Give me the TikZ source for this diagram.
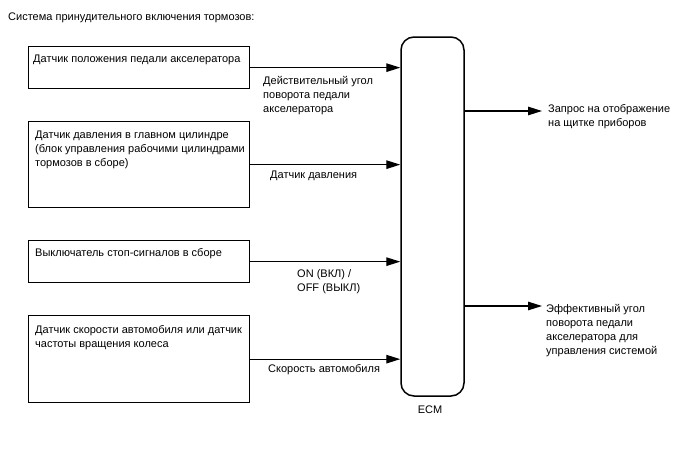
\documentclass[tikz,border=0pt]{standalone}
\usepackage{fontspec}
\setmainfont{Liberation Sans}
\usetikzlibrary{arrows.meta, positioning, calc}

\begin{document}
\begin{tikzpicture}[x=1pt, y=-1pt,
    every node/.style={font=\fontsize{11}{14}\selectfont},
    txt/.style={anchor=north west, inner sep=0pt, align=left},
    sensor/.style={draw, line width=1.3pt, anchor=north west, minimum width=221pt, inner sep=0pt},
    sig/.style={-{Triangle[length=14pt, width=8.5pt]}, line width=1.3pt}]
    \useasboundingbox (0,0) rectangle (688,463);
    % Title
    \node[txt] (title) at (8,12.5) {Система принудительного включения тормозов:};
    % Sensors
    \node[sensor, minimum height=42pt] (pedal) at (28,46) {};
    \node[txt] (pedaltxt) at (33,54.5) {Датчик положения педали акселератора};
    \node[sensor, minimum height=86pt] (press) at (28,121) {};
    \node[txt] (presstxt) at (35,130.5) {Датчик давления в главном цилиндре\\(блок управления рабочими цилиндрами\\тормозов в сборе)};
    \node[sensor, minimum height=42pt] (stop) at (28,240) {};
    \node[txt] (stoptxt) at (35,248.5) {Выключатель стоп-сигналов в сборе};
    \node[sensor, minimum height=87pt] (speed) at (28,315) {};
    \node[txt] (speedtxt) at (35,325.5) {Датчик скорости автомобиля или датчик\\частоты вращения колеса};
    % ECM
    \node[draw, line width=1.5pt, rounded corners=13pt, minimum width=63pt, minimum height=359pt, inner sep=0pt] (ecm) at (432.5,216.5) {};
    \node[inner sep=0pt] (ecmtxt) at (430,410) {ECM};
    % Inputs
    \draw[sig] (pedal.east) -- (pedal.east -| ecm.west);
    \draw[sig] (press.east) -- (press.east -| ecm.west);
    \draw[sig] (stop.east) -- (stop.east -| ecm.west);
    \draw[sig] (speed.east) -- (speed.east -| ecm.west);
    \node[txt] (pedalsig) at (263,76.5) {Действительный угол\\поворота педали\\акселератора};
    \node[txt] (presssig) at (270,170.5) {Датчик давления};
    \node[txt] (stopsig) at (297,269.5) {ON (ВКЛ) /\\OFF (ВЫКЛ)};
    \node[txt] (speedsig) at (268,364.5) {Скорость автомобиля};
    % Outputs
    \coordinate (req) at (542,111);
    \coordinate (eff) at (542,306);
    \draw[sig] (req -| ecm.east) -- (req);
    \draw[sig] (eff -| ecm.east) -- (eff);
    \node[txt] (reqtxt) at (548,104.5) {Запрос на отображение\\на щитке приборов};
    \node[txt] (efftxt) at (546,304.5) {Эффективный угол\\поворота педали\\акселератора для\\управления системой};
\end{tikzpicture}
\end{document}
